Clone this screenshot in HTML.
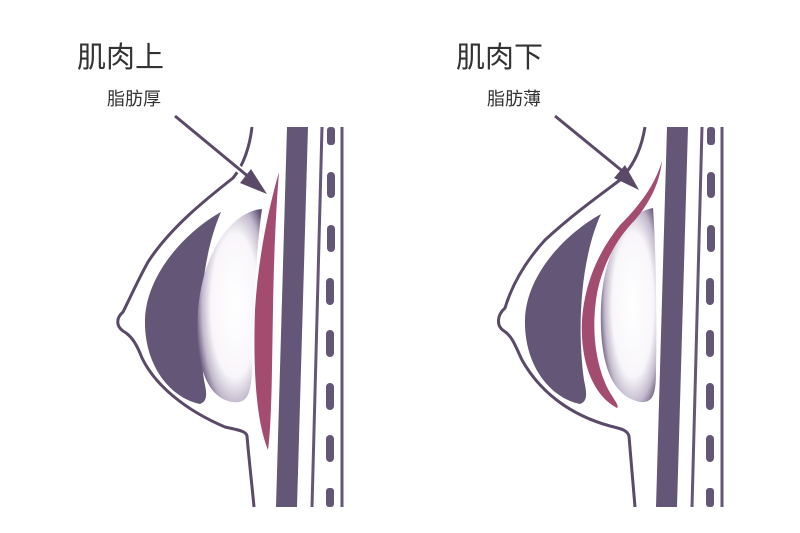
<!DOCTYPE html>
<html><head><meta charset="utf-8"><style>
html,body{margin:0;padding:0;background:#fff;}
svg{display:block;}
text{font-family:"Liberation Sans","Noto Sans CJK SC",sans-serif;fill:#333;}
</style></head><body>
<svg width="800" height="533" viewBox="0 0 800 533" xmlns="http://www.w3.org/2000/svg">
<defs>
<radialGradient id="imp" cx="0.58" cy="0.5" r="0.62">
<stop offset="0" stop-color="#ffffff"/>
<stop offset="0.6" stop-color="#f8f6fa"/>
<stop offset="0.82" stop-color="#c2b9cc"/>
<stop offset="1" stop-color="#5e5072"/>
</radialGradient>
<g id="spine">
<path d="M287,127 L308,127 L297,507 L276,507 Z" fill="#645676"/>
<path d="M322,127 L312,507" stroke="#645676" stroke-width="3" fill="none"/>
<path d="M342,127 L342,507" stroke="#645676" stroke-width="3" fill="none"/>
<g fill="#645676">
<rect x="327" y="127" width="8" height="18" rx="3"/>
<rect x="327" y="172" width="8" height="26" rx="4"/>
<rect x="327" y="225" width="8" height="27" rx="4"/>
<rect x="326" y="278" width="8" height="27" rx="4"/>
<rect x="326" y="330" width="8" height="27" rx="4"/>
<rect x="326" y="383" width="8" height="27" rx="4"/>
<rect x="326" y="435" width="8" height="27" rx="4"/>
<rect x="326" y="488" width="8" height="19" rx="3"/>
</g>
</g>
</defs>
<rect width="800" height="533" fill="#fff"/>

<text x="77" y="67" font-size="29">肌肉上</text>
<text x="107" y="105" font-size="18">脂肪厚</text>
<text x="456" y="67" font-size="29">肌肉下</text>
<text x="487" y="105" font-size="18">脂肪薄</text>

<!-- LEFT -->
<use href="#spine"/>
<path d="M252,127 C250,145 244,165 233,178 C205,200 170,228 148,262 C138,280 130,298 123,312 C116,318 116,326 123,331 C132,336 137,345 142,358 C155,385 185,410 225,427 C238,430 246,431 247,436 C249,460 252,485 254,507" stroke="#5a4a68" stroke-width="3" fill="none"/>
<path d="M221,212 C185,232 146,275 145,320 C144,365 170,398 200,404 C209,401 206,390 204,380 C197,330 200,260 221,212 Z" fill="#645676"/>
<path d="M262,209 C233,211 203,250 198,310 C195,362 205,397 232,402 C247,404 251,395 252,370 C253,320 256,250 262,209 Z" fill="url(#imp)"/>
<path d="M279,172 C268,210 258,260 255,310 C253,370 256,420 268,450 C272,420 272,360 273,310 C274,250 276,210 279,172 Z" fill="#a44c70"/>
<line x1="175" y1="116" x2="258" y2="185" stroke="#fff" stroke-width="7"/>
<line x1="175" y1="116" x2="250" y2="178" stroke="#5a4a68" stroke-width="3"/>
<path d="M267,194 L240,183 L251,169 Z" fill="#5a4a68"/>

<!-- RIGHT -->
<g transform="translate(380,0)"><use href="#spine"/></g>
<path d="M645,127 C642,145 636,163 620,180 C600,195 572,215 545,240 C525,262 512,285 505,308 C497,315 496,326 504,331 C512,336 515,345 522,360 C540,392 570,415 610,426 C622,429 627,430 629,436 C631,460 633,485 635,507" stroke="#5a4a68" stroke-width="3" fill="none"/>
<path d="M601,214 C565,234 526,275 525,320 C524,365 550,398 580,404 C589,401 586,390 584,380 C577,330 580,260 601,214 Z" fill="#645676"/>
<path d="M653,208 C627,212 604,250 601,305 C599,360 610,396 640,402 C653,403 656,395 656,370 C657,320 656,250 653,208 Z" fill="url(#imp)"/>
<path d="M662,161 C655,185 640,205 620,225 C600,250 585,280 582,320 C580,360 592,395 617,408 C620,405 612,398 606,385 C595,360 592,330 596,300 C600,270 615,240 635,220 C652,200 660,180 662,161 Z" fill="#a44c70"/>
<line x1="555" y1="116" x2="634" y2="181" stroke="#fff" stroke-width="7"/>
<line x1="555" y1="116" x2="626" y2="174" stroke="#5a4a68" stroke-width="3"/>
<path d="M639,190 L614,178 L625,165 Z" fill="#5a4a68"/>
</svg>
</body></html>
